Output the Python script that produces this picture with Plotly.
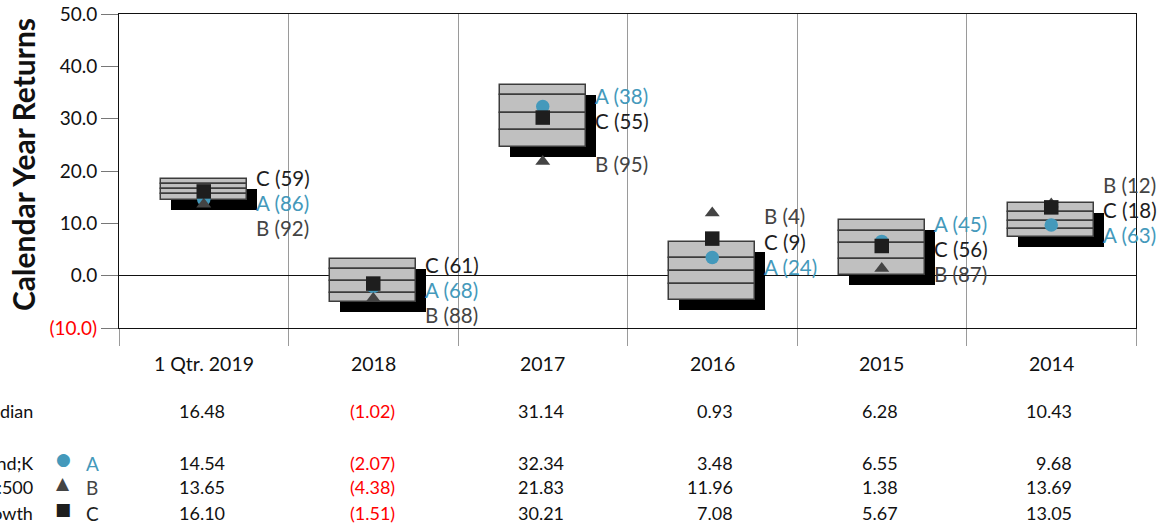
import plotly.graph_objects as go

# Periods (columns, left to right)
periods = ["1 Qtr. 2019", "2018", "2017", "2016", "2015", "2014"]

# Peer-group percentile bands per period: 5th, 25th, median, 75th, 95th
pct05 = [18.40, 3.25, 36.50, 6.50, 10.55, 13.85]
pct25 = [17.45, 1.35, 34.50, 3.30, 8.60, 12.15]
median = [16.48, -1.02, 31.14, 0.93, 6.28, 10.43]
pct75 = [15.60, -3.30, 27.80, -1.50, 3.20, 8.85]
pct95 = [14.40, -5.00, 24.60, -4.60, 0.05, 7.45]

# Series returns and peer ranks
ret_a = [14.54, -2.07, 32.34, 3.48, 6.55, 9.68]
ret_b = [13.65, -4.38, 21.83, 11.96, 1.38, 13.69]
ret_c = [16.10, -1.51, 30.21, 7.08, 5.67, 13.05]
rank_a = [86, 68, 38, 24, 45, 63]
rank_b = [92, 88, 95, 4, 87, 12]
rank_c = [59, 61, 55, 9, 56, 18]

row_names = ["Median", "Fund;K", "S&P:500", "Growth"]
series_names = ["A", "B", "C"]

y_ticks = [-10, 0, 10, 20, 30, 40, 50]

FONT = "Lato"
COL_A = "#4499bb"
COL_B = "#444444"
COL_C = "#1e1e1e"
RED = "#ff0000"

W, H = 1170, 525
ML, MR, MT, MB = 119, 34, 14, 197
plot_w = W - ML - MR
plot_h = H - MT - MB
n = len(periods)
y_lo, y_hi = -10, 50
px_x = plot_w / n                 # pixels per x unit
px_y = plot_h / (y_hi - y_lo)     # pixels per y unit

centers = [i + 0.5 for i in range(n)]
bar_w = 0.505
sh_dx = 10 / px_x                 # drop-shadow offset (10 px right, 10 px down)
sh_dy = 10 / px_y


def fmt(v):
    return f"({abs(v):.2f})" if v < 0 else f"{v:.2f}"


def text_w(s):
    w = 0.0
    for ch in s:
        if ch.isdigit():
            w += 10.4
        elif ch == ".":
            w += 4.3
        else:
            w += 6.3
    return w


fig = go.Figure()

# drop shadows
fig.add_trace(go.Bar(
    x=[c + sh_dx for c in centers],
    y=[t - b for t, b in zip(pct05, pct95)],
    base=[b - sh_dy for b in pct95],
    width=bar_w, marker=dict(color="#000000", line=dict(width=0)),
    hoverinfo="skip", showlegend=False,
))

# percentile bands
bands = [pct05, pct25, median, pct75, pct95]
for k in range(4):
    top, bot = bands[k], bands[k + 1]
    fig.add_trace(go.Bar(
        x=centers, y=[t - b for t, b in zip(top, bot)], base=bot,
        width=bar_w,
        marker=dict(color="#c0c0c0", line=dict(color="#3c3c3c", width=1.5)),
        hoverinfo="skip", showlegend=False,
    ))

# series markers
fig.add_trace(go.Scatter(x=centers, y=ret_a, mode="markers", showlegend=False,
                         marker=dict(symbol="circle", size=13.5, color=COL_A)))
fig.add_trace(go.Scatter(x=centers, y=ret_b, mode="markers", showlegend=False,
                         marker=dict(symbol="triangle-up", size=13, color=COL_B)))
fig.add_trace(go.Scatter(x=centers, y=ret_c, mode="markers", showlegend=False,
                         marker=dict(symbol="square", size=14.5, color=COL_C)))

ann = []

# rank labels: middle value stays, neighbours pushed apart by a minimum gap
gap = 25 / px_y
for i in range(n):
    items = [("A", ret_a[i], rank_a[i], COL_A),
             ("B", ret_b[i], rank_b[i], COL_B),
             ("C", ret_c[i], rank_c[i], COL_C)]
    items.sort(key=lambda t: -t[1])
    mid = items[1][1]
    pos = [max(items[0][1], mid + gap), mid, min(items[2][1], mid - gap)]
    for (name, val, rk, col), p in zip(items, pos):
        ann.append(dict(x=centers[i] + bar_w / 2 + sh_dx, y=p, xref="x", yref="y",
                        text=f"{name} ({rk})", showarrow=False, xanchor="left",
                        yanchor="middle", yshift=-3, xshift=-3,
                        font=dict(family=FONT, size=20.5, color=col)))

# table below the chart
row_px = [411, 463, 487, 513]
rows = [median, ret_a, ret_b, ret_c]
bottom_px = MT + plot_h
for i in range(n):
    ann.append(dict(x=centers[i], y=0, xref="x", yref="paper", text=periods[i],
                    showarrow=False, xanchor="center", yanchor="middle",
                    yshift=-(363 - bottom_px),
                    font=dict(family=FONT, size=19.5, color="#111111")))
    strs = [fmt(r[i]) for r in rows]
    half = max(text_w(s) for s in strs) / 2
    for s, r, py in zip(strs, rows, row_px):
        ann.append(dict(x=centers[i], y=0, xref="x", yref="paper", text=s,
                        showarrow=False, xanchor="right", yanchor="middle",
                        xshift=half, yshift=-(py - bottom_px),
                        font=dict(family=FONT, size=18,
                                  color=RED if r[i] < 0 else "#111111")))

# row captions (right-aligned, run off the left edge)
for name, py in zip(row_names, row_px):
    ann.append(dict(x=0, y=0, xref="paper", yref="paper", text=name,
                    showarrow=False, xanchor="right", yanchor="middle",
                    xshift=35 - ML, yshift=-(py - bottom_px),
                    font=dict(family=FONT, size=18, color="#111111")))

# legend key in the table
symbols = ["\u25CF", "\u25B2", "\u25A0"]
sym_cols = [COL_A, COL_B, COL_C]
for sym, name, col, py in zip(symbols, series_names, sym_cols, row_px[1:]):
    ann.append(dict(x=0, y=0, xref="paper", yref="paper", text=sym,
                    showarrow=False, xanchor="center", yanchor="middle",
                    xshift=63 - ML, yshift=-(py - 4 - bottom_px),
                    font=dict(family="DejaVu Sans", size=17, color=col)))
    ann.append(dict(x=0, y=0, xref="paper", yref="paper", text=name,
                    showarrow=False, xanchor="left", yanchor="middle",
                    xshift=84 - ML, yshift=-(py - bottom_px),
                    font=dict(family=FONT, size=19, color=col)))

# y-axis title
ann.append(dict(x=0, y=0.5, xref="paper", yref="paper",
                text="<b>Calendar Year Returns</b>", showarrow=False,
                textangle=-90, xanchor="center", yanchor="middle",
                xshift=23 - ML, yshift=6,
                font=dict(family=FONT, size=30, color="#111111")))

tick_text = [f'<span style="color:{RED}">({abs(v):.1f})</span>' if v < 0 else f"{v:.1f}"
             for v in y_ticks]

fig.update_layout(
    width=W, height=H,
    margin=dict(l=ML, r=MR, t=MT, b=MB, autoexpand=False),
    paper_bgcolor="white", plot_bgcolor="white",
    barmode="overlay", bargap=0,
    font=dict(family=FONT, size=18, color="#111111"),
    annotations=ann,
    xaxis=dict(range=[0, n], tickvals=list(range(n + 1)), showticklabels=False,
               showgrid=True, gridcolor="#9a9a9a", gridwidth=1,
               ticks="outside", ticklen=17, tickcolor="#9a9a9a", tickwidth=1,
               showline=True, linecolor="#111111", linewidth=1, mirror=True,
               zeroline=False, fixedrange=True, automargin=False),
    yaxis=dict(range=[y_lo, y_hi], tickvals=y_ticks, ticktext=tick_text,
               showgrid=False, ticks="outside", ticklen=17, tickcolor="#777777",
               tickwidth=1, showline=True, linecolor="#111111", linewidth=1,
               mirror=True, zeroline=True, zerolinecolor="#111111", zerolinewidth=1,
               tickfont=dict(family=FONT, size=19, color="#111111"),
               fixedrange=True, automargin=False),
)

fig.write_html("out.html")
